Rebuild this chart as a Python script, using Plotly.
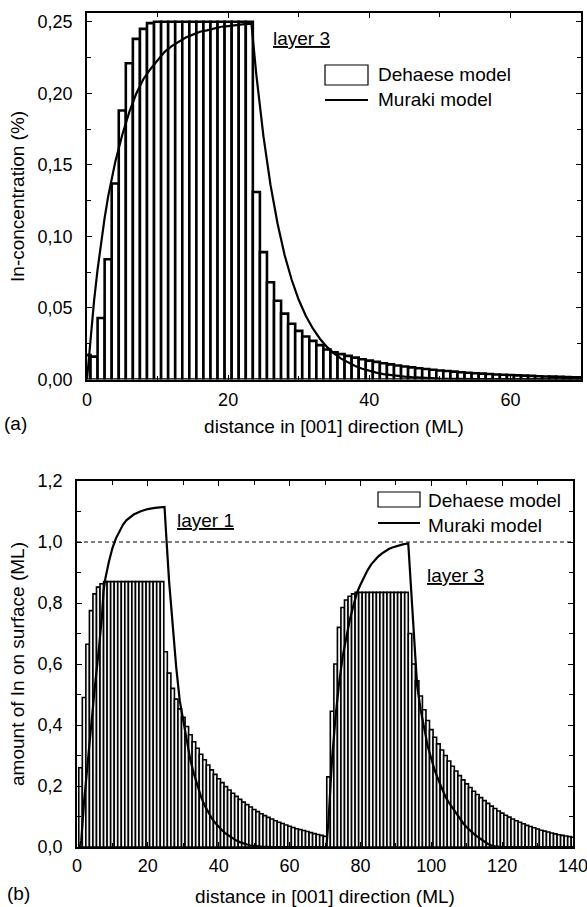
import plotly.graph_objects as go

W, H = 587, 907

# ---------------- data: panel (a) ----------------
dist_a = list(range(0, 71))
dehaese_a = [0.017, 0.016, 0.043, 0.084, 0.137, 0.188, 0.221, 0.238, 0.245, 0.249,
             0.25, 0.25, 0.25, 0.25, 0.25, 0.25, 0.25, 0.25, 0.25, 0.25, 0.25, 0.25, 0.25, 0.25,
             0.131, 0.089, 0.068, 0.055, 0.046, 0.039, 0.034, 0.030, 0.027, 0.024, 0.021, 0.019,
             0.0177, 0.0165, 0.0153, 0.0142, 0.0132, 0.0123, 0.0114, 0.0106, 0.0098, 0.0091,
             0.0085, 0.0079, 0.0073, 0.0068, 0.0063, 0.0059, 0.0055, 0.0051, 0.0047, 0.0044,
             0.0041, 0.0038, 0.0035, 0.0033, 0.0031, 0.0029, 0.0027, 0.0025, 0.0023, 0.0021,
             0.0020, 0.0019, 0.0017, 0.0016, 0.0015]
muraki_a_x = [0, 0.5, 1, 1.5, 2, 2.5, 3, 3.5, 4, 5, 6, 7, 8, 9, 10, 11, 12, 13, 14, 15, 16, 17,
              18, 19, 20, 21, 22, 23, 23.3, 24, 25, 26, 27, 28, 29, 30, 31, 32, 33, 34, 35, 36,
              37, 38, 39, 40, 41, 42, 43, 44, 45, 46, 47, 48, 50, 55, 60, 70]
muraki_a_y = [0, 0.030, 0.055, 0.077, 0.096, 0.113, 0.128, 0.141, 0.152, 0.171, 0.187, 0.200,
              0.210, 0.217, 0.223, 0.229, 0.233, 0.236, 0.239, 0.241, 0.243, 0.244, 0.2455,
              0.2465, 0.247, 0.2477, 0.2482, 0.2485, 0.2487, 0.2127, 0.170, 0.136, 0.109, 0.087,
              0.0697, 0.0557, 0.0446, 0.0357, 0.0285, 0.0228, 0.0183, 0.0146, 0.0117, 0.0094,
              0.0075, 0.006, 0.0048, 0.0038, 0.0031, 0.0025, 0.002, 0.0016, 0.0013, 0.001,
              0.0007, 0.0002, 0.0001, 0]

# ---------------- data: panel (b) ----------------
dist_b = list(range(1, 141))
dehaese_b = [0.26, 0.49, 0.665, 0.775, 0.83, 0.852, 0.863,
             0.87, 0.87, 0.87, 0.87, 0.87, 0.87, 0.87, 0.87, 0.87, 0.87, 0.87, 0.87, 0.87, 0.87,
             0.87, 0.87, 0.87,
             0.64, 0.57, 0.52, 0.485, 0.453, 0.425, 0.395, 0.368, 0.345, 0.324, 0.304, 0.286,
             0.269, 0.253, 0.238, 0.224, 0.211, 0.198, 0.187, 0.176, 0.166, 0.156, 0.147, 0.139,
             0.131, 0.123, 0.116, 0.109, 0.103, 0.097, 0.092, 0.086, 0.081, 0.077, 0.072, 0.068,
             0.064, 0.060, 0.057, 0.054, 0.051, 0.047, 0.044, 0.041, 0.038, 0.035,
             0.23, 0.445, 0.60, 0.72, 0.785, 0.81, 0.822, 0.83,
             0.835, 0.835, 0.835, 0.835, 0.835, 0.835, 0.835, 0.835, 0.835, 0.835, 0.835, 0.835,
             0.835, 0.835, 0.835,
             0.70, 0.60, 0.545, 0.495, 0.45, 0.415, 0.385, 0.36, 0.338, 0.318, 0.30, 0.282,
             0.265, 0.249, 0.234, 0.22, 0.207, 0.195, 0.183, 0.172, 0.162, 0.152, 0.143, 0.134,
             0.126, 0.118, 0.111, 0.104, 0.098, 0.092, 0.086, 0.081, 0.076, 0.071, 0.067, 0.063,
             0.059, 0.055, 0.052, 0.049, 0.046, 0.043, 0.040, 0.038, 0.036, 0.034, 0.032]
muraki_b_x = [0.8, 1.2, 2, 3, 4, 5, 6, 7, 7.5, 8, 9, 10, 11, 12, 13, 14, 16, 18, 20, 22, 24.7,
              25.3, 26, 27, 28, 29, 30, 31, 32, 33, 34, 35, 36, 37, 38, 39, 40, 41, 42, 43, 44,
              45, 46, 47, 48, 49, 50, 52, 55, 70.4,
              71, 72, 73, 74, 75, 76, 77, 78, 79, 80, 81, 82, 83, 84, 85, 86, 87, 88, 89, 90, 91,
              92, 93.5, 94, 95, 96, 97, 98, 99, 100, 101, 102, 103, 104, 105, 106, 107, 108, 109,
              110, 111, 112, 113, 114, 115, 116, 117, 118, 120, 140]
muraki_b_y = [0, 0.02, 0.15, 0.28, 0.40, 0.52, 0.63, 0.75, 0.84, 0.88, 0.935, 0.98, 1.012, 1.037,
              1.057, 1.072, 1.09, 1.101, 1.108, 1.112, 1.115,
              1.0, 0.87, 0.73, 0.59, 0.48, 0.41, 0.345, 0.285, 0.24, 0.20, 0.165, 0.137, 0.114,
              0.095, 0.079, 0.065, 0.054, 0.044, 0.036, 0.028, 0.021, 0.016, 0.011, 0.008, 0.005,
              0.003, 0.001, 0, 0,
              0.09, 0.29, 0.43, 0.54, 0.625, 0.69, 0.745, 0.79, 0.833, 0.86, 0.885, 0.907, 0.926,
              0.94, 0.952, 0.962, 0.97, 0.977, 0.982, 0.986, 0.989, 0.992, 0.995,
              0.90, 0.70, 0.53, 0.45, 0.385, 0.33, 0.29, 0.25, 0.22, 0.19, 0.165, 0.145, 0.128,
              0.11, 0.093, 0.078, 0.065, 0.053, 0.043, 0.034, 0.025, 0.017, 0.01, 0.005, 0.002,
              0, 0]
monolayer_level = 1.0

FONT = "Liberation Sans, Arial, sans-serif"
TICK_FS = 18
TITLE_FS = 19


def px(x):
    return x / W


def py(y):
    return 1 - y / H


fig = go.Figure()
fig.add_trace(go.Bar(x=dist_a, y=dehaese_a, width=1, name="Dehaese model",
                     marker=dict(color="white", line=dict(color="black", width=2.6)),
                     xaxis="x", yaxis="y", showlegend=False))
fig.add_trace(go.Scatter(x=muraki_a_x, y=muraki_a_y, mode="lines", name="Muraki model",
                         line=dict(color="black", width=2.2), xaxis="x", yaxis="y",
                         showlegend=False))
fig.add_trace(go.Bar(x=dist_b, y=dehaese_b, width=1, name="Dehaese model",
                     marker=dict(color="#f4f4f4", line=dict(color="black", width=1.6)),
                     xaxis="x2", yaxis="y2", showlegend=False))
fig.add_trace(go.Scatter(x=muraki_b_x, y=muraki_b_y, mode="lines", name="Muraki model",
                         line=dict(color="black", width=2.2), xaxis="x2", yaxis="y2",
                         showlegend=False))

axis_common = dict(showgrid=False, zeroline=False, showline=True, linecolor="black",
                   linewidth=1.5, mirror="ticks", ticks="inside", ticklen=5, tickwidth=1.3,
                   tickcolor="black", ticklabeloverflow="allow", automargin=False,
                   tickfont=dict(family=FONT, size=TICK_FS, color="black"))

fig.update_layout(
    template="none",
    width=W, height=H, margin=dict(l=0, r=0, t=0, b=0, pad=0), autosize=False,
    paper_bgcolor="white", plot_bgcolor="white", separators=",.",
    font=dict(family=FONT, color="black"), barmode="overlay",
    xaxis=dict(domain=[px(87), px(581)], anchor="y", range=[0, 70], tick0=0, dtick=20,
               minor=dict(dtick=10, ticks="inside", ticklen=4, tickcolor="black"),
               ticklabelstandoff=3,
               title=dict(text="distance in [001] direction (ML)", standoff=11,
                          font=dict(family=FONT, size=TITLE_FS, color="black")),
               **axis_common),
    yaxis=dict(domain=[py(379.5), py(13.3)], anchor="x", range=[0, 0.2559], tick0=0,
               dtick=0.05, tickformat=".2f",
               minor=dict(dtick=0.025, ticks="inside", ticklen=4, tickcolor="black"),
               ticklabelstandoff=9,
               title=dict(text="In-concentration (%)", standoff=8,
                          font=dict(family=FONT, size=TITLE_FS, color="black")),
               **axis_common),
    xaxis2=dict(domain=[px(77), px(573)], anchor="y2", range=[0, 140], tick0=0, dtick=20,
                minor=dict(dtick=10, ticks="inside", ticklen=4, tickcolor="black"),
                ticklabelstandoff=2,
                title=dict(text="distance in [001] direction (ML)", standoff=17,
                           font=dict(family=FONT, size=TITLE_FS, color="black")),
                **axis_common),
    yaxis2=dict(domain=[py(847), py(481)], anchor="x2", range=[0, 1.2], tick0=0, dtick=0.2,
                tickformat=".1f",
                minor=dict(dtick=0.1, ticks="inside", ticklen=4, tickcolor="black"),
                ticklabelstandoff=9,
                title=dict(text="amount of In on surface (ML)", standoff=8,
                           font=dict(family=FONT, size=TITLE_FS, color="black")),
                **axis_common),
)

# dashed reference line (1 monolayer)
fig.add_shape(type="line", xref="x2 domain", yref="y2", x0=0, x1=1,
              y0=monolayer_level, y1=monolayer_level,
              line=dict(color="black", width=1, dash="4px,3px"))

# custom legends
for (bx0, bx1, by0, by1, ly, tx, ty1, ty2) in [
        (325, 368, 65, 85, 100, 376, 75, 100),
        (378, 420, 492, 507, 523, 426, 500, 525)]:
    fig.add_shape(type="rect", xref="paper", yref="paper", x0=px(bx0), x1=px(bx1),
                  y0=py(by1), y1=py(by0), line=dict(color="black", width=1.2),
                  fillcolor="white")
    fig.add_shape(type="line", xref="paper", yref="paper", x0=px(bx0), x1=px(bx1),
                  y0=py(ly), y1=py(ly), line=dict(color="black", width=2.2))
    fig.add_annotation(text="Dehaese model", xref="paper", yref="paper", x=px(tx), y=py(ty1),
                       xanchor="left", yanchor="middle", showarrow=False,
                       font=dict(family=FONT, size=TITLE_FS, color="black"))
    fig.add_annotation(text="Muraki model", xref="paper", yref="paper", x=px(tx), y=py(ty2),
                       xanchor="left", yanchor="middle", showarrow=False,
                       font=dict(family=FONT, size=TITLE_FS, color="black"))

labels = [("<u>layer 3</u>", 271, 38), ("<u>layer 1</u>", 175, 520),
          ("<u>layer 3</u>", 425, 575), ("(a)", 2, 423), ("(b)", 5, 893)]
for text, lx, ly in labels:
    fig.add_annotation(text=text, xref="paper", yref="paper", x=px(lx), y=py(ly),
                       xanchor="left", yanchor="middle", showarrow=False,
                       font=dict(family=FONT, size=TITLE_FS, color="black"))

fig.write_html("out.html")
